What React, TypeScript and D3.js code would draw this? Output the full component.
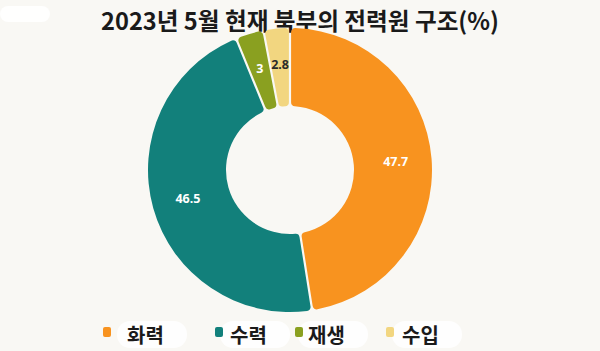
import { useRef, useEffect } from "react";
import * as d3 from "d3";

const categories = ["화력", "수력", "재생", "수입"];
const values = [47.7, 46.5, 3, 2.8];
const labels = ["47.7", "46.5", "3", "2.8"];
const colors = ["#f8931f", "#12807b", "#8aa020", "#f2d680"];
const labelColors = ["#ffffff", "#ffffff", "#ffffff", "#2b2b2b"];
const title = "2023년 5월 현재 북부의 전력원 구조(%)";

const WIDTH = 600;
const HEIGHT = 351;
const BG = "#f9f8f4";

export default function App() {
  const svgRef = useRef<SVGSVGElement>(null);

  useEffect(() => {
    if (!svgRef.current) return;
    const svg = d3.select(svgRef.current);
    svg.selectAll("*").remove();

    svg.append("rect").attr("width", WIDTH).attr("height", HEIGHT).attr("fill", BG);

    // soft white patch top-left
    svg
      .append("rect")
      .attr("x", 0)
      .attr("y", 6)
      .attr("width", 50)
      .attr("height", 16)
      .attr("rx", 8)
      .attr("fill", "#ffffff")
      .attr("opacity", 0.9);

    // title
    svg
      .append("text")
      .attr("x", 300)
      .attr("y", 30)
      .attr("text-anchor", "middle")
      .attr("font-family", "'Noto Sans CJK KR', 'Noto Sans', sans-serif")
      .attr("font-weight", 700)
      .attr("font-size", 24)
      .attr("textLength", 398)
      .attr("lengthAdjust", "spacingAndGlyphs")
      .attr("fill", "#1a1a1a")
      .text(title);

    const cx = 290;
    const cy = 170;
    const outerR = 142;
    const innerR = 64;

    const pie = d3
      .pie<number>()
      .sort(null)
      .value((d) => d)
      .padAngle(0.014);

    const arc = d3
      .arc<d3.PieArcDatum<number>>()
      .innerRadius(innerR)
      .outerRadius(outerR)
      .cornerRadius(4);

    const labelArc = d3
      .arc<d3.PieArcDatum<number>>()
      .innerRadius(106)
      .outerRadius(106);

    const arcs = pie(values);
    const g = svg.append("g").attr("transform", `translate(${cx},${cy})`);

    g.selectAll("path")
      .data(arcs)
      .join("path")
      .attr("d", arc)
      .attr("fill", (_, i) => colors[i]);

    g.selectAll("text")
      .data(arcs)
      .join("text")
      .attr("transform", (d) => `translate(${labelArc.centroid(d)})`)
      .attr("text-anchor", "middle")
      .attr("dy", "0.35em")
      .attr("font-family", "'Noto Sans', 'DejaVu Sans', sans-serif")
      .attr("font-weight", 700)
      .attr("font-size", 12.5)
      .attr("fill", (_, i) => labelColors[i])
      .text((_, i) => labels[i]);

    // legend
    const legendX = [103, 215, 295, 386];
    const textX = [127, 230, 308, 402];
    const legend = svg.append("g");
    categories.forEach((c, i) => {
      legend
        .append("rect")
        .attr("x", textX[i] - 10)
        .attr("y", 321)
        .attr("width", 70)
        .attr("height", 27)
        .attr("rx", 13)
        .attr("fill", "#ffffff")
        .attr("opacity", 0.85);
      legend
        .append("rect")
        .attr("x", legendX[i])
        .attr("y", 327)
        .attr("width", 8)
        .attr("height", 10)
        .attr("rx", 2)
        .attr("fill", colors[i]);
      legend
        .append("text")
        .attr("x", textX[i])
        .attr("y", 343)
        .attr("font-family", "'Noto Sans CJK KR', sans-serif")
        .attr("font-weight", 700)
        .attr("font-size", 20)
        .attr("fill", "#1a1a1a")
        .text(c);
    });
  }, []);

  return (
    <svg
      ref={svgRef}
      width={WIDTH}
      height={HEIGHT}
      style={{ position: "absolute", left: 0, top: 0 }}
    />
  );
}
